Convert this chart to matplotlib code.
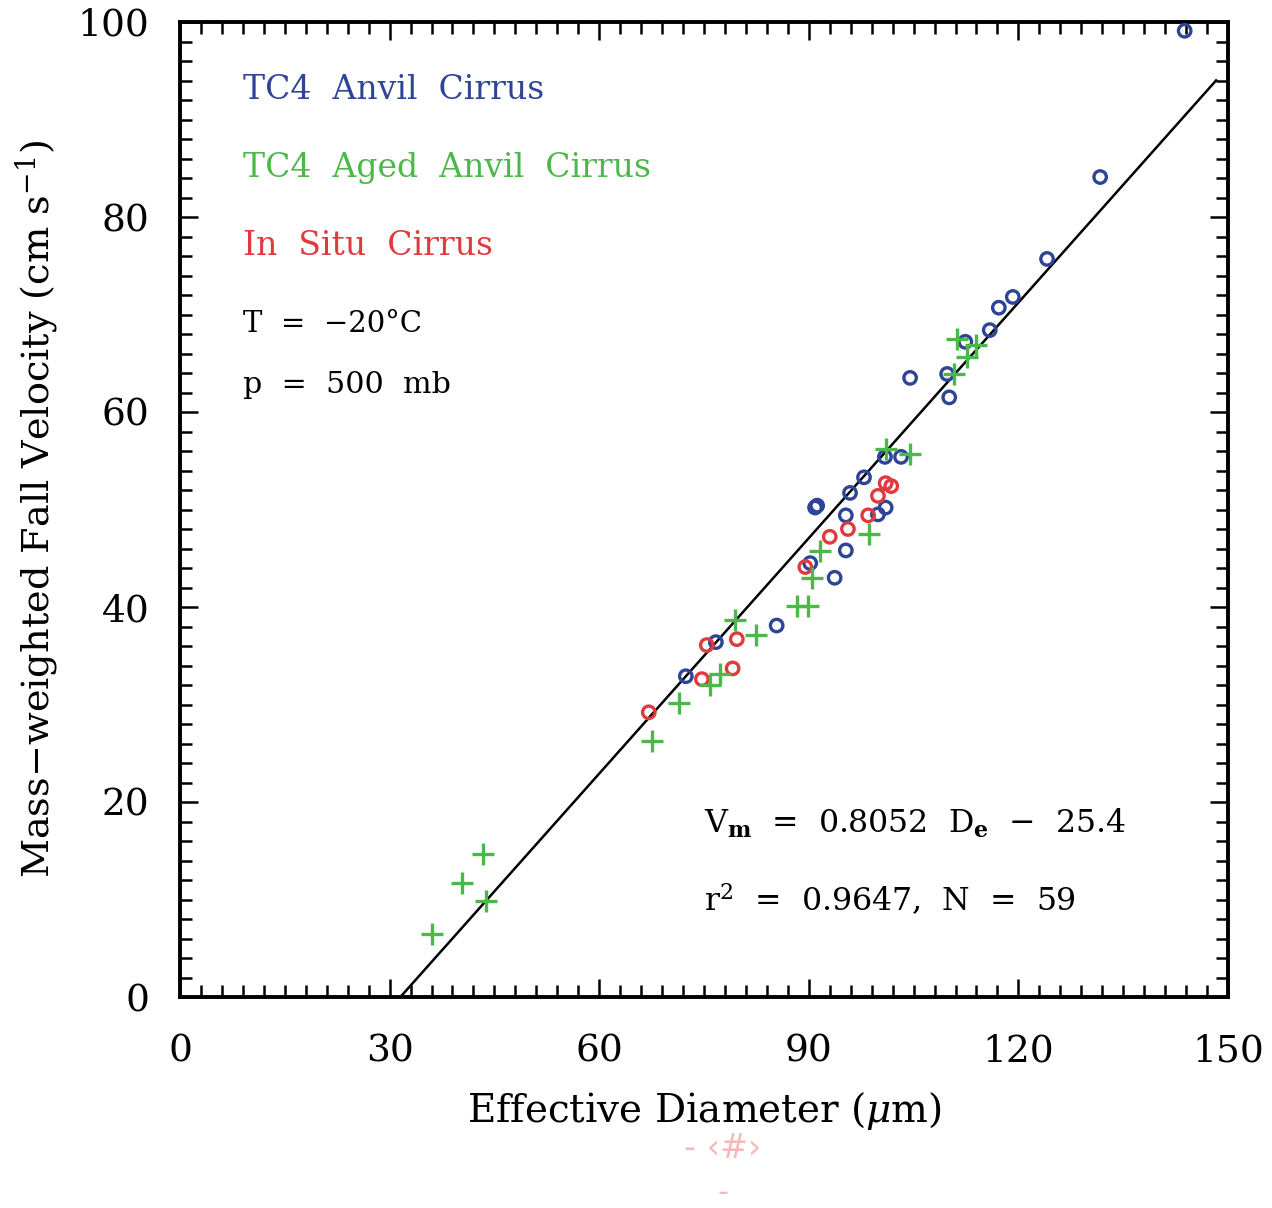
import matplotlib
matplotlib.use("Agg")
from matplotlib import pyplot as plt
from matplotlib.ticker import MultipleLocator
import numpy as np

plt.rcParams["font.family"] = ["DejaVu Serif"]
plt.rcParams["mathtext.fontset"] = "dejavuserif"

# TC4 anvil cirrus (blue circles)
anvil_d = [143.8, 131.7, 124.1, 119.2, 117.2, 115.9, 112.4, 104.5, 109.8, 110.1,
           100.9, 103.2, 97.9, 95.9, 91.2, 90.9, 95.3, 99.9, 101.0, 95.3,
           90.2, 93.7, 85.4, 76.7, 72.4]
anvil_v = [99.1, 84.1, 75.7, 71.8, 70.7, 68.4, 67.2, 63.5, 63.9, 61.5,
           55.4, 55.4, 53.3, 51.7, 50.4, 50.2, 49.4, 49.5, 50.2, 45.8,
           44.5, 43.0, 38.1, 36.4, 32.9]

# TC4 aged anvil cirrus (green pluses)
aged_d = [111.2, 113.9, 112.6, 110.8, 101.0, 104.5, 98.6, 91.6, 90.5, 79.4,
          82.4, 88.3, 89.9, 77.3, 75.9, 71.4, 67.6, 43.4, 40.4, 43.8, 36.1]
aged_v = [67.5, 66.9, 65.6, 63.9, 56.2, 55.7, 47.5, 45.7, 43.0, 38.7,
          37.1, 40.1, 40.1, 33.1, 32.0, 30.2, 26.3, 14.7, 11.7, 9.8, 6.5]

# in situ cirrus (red circles)
insitu_d = [101.0, 101.8, 99.9, 98.5, 95.6, 93.0, 89.5, 75.4, 79.7, 74.7, 79.1, 67.1]
insitu_v = [52.7, 52.4, 51.4, 49.4, 48.0, 47.2, 44.1, 36.1, 36.7, 32.6, 33.7, 29.2]

# fit  Vm = slope * De + intercept
slope = 0.8052
intercept = -25.4
d_end = 148.3

blue = "#2e4496"
green = "#4cb84a"
red = "#e0393e"

fig = plt.figure(figsize=(12.72, 12.08), dpi=100)
ax = fig.add_axes([180 / 1272, 1 - 997 / 1208, 1048 / 1272, 975 / 1208])

d_line = np.array([-intercept / slope, d_end])
ax.plot(d_line, slope * d_line + intercept, color="black", lw=1.8, zorder=2)

ax.scatter(anvil_d, anvil_v, s=80, facecolors="none", edgecolors=blue, linewidths=2.4, zorder=3)
ax.scatter(insitu_d, insitu_v, s=80, facecolors="none", edgecolors=red, linewidths=2.4, zorder=3)
ax.scatter(aged_d, aged_v, s=240, marker="+", color=green, linewidths=2.4, zorder=3)

ax.set_xlim(0, 150)
ax.set_ylim(0, 100)
ax.xaxis.set_major_locator(MultipleLocator(30))
ax.xaxis.set_minor_locator(MultipleLocator(3))
ax.yaxis.set_major_locator(MultipleLocator(20))
ax.yaxis.set_minor_locator(MultipleLocator(2))
ax.tick_params(which="both", direction="in", top=True, right=True, width=1.8, colors="black")
ax.tick_params(which="major", length=13, labelsize=27)
ax.tick_params(axis="x", which="major", pad=26)
ax.tick_params(axis="y", which="major", pad=22)
ax.tick_params(which="minor", length=8.5)
for sp in ax.spines.values():
    sp.set_linewidth(2.8)

ax.set_xlabel(r"Effective Diameter ($\mu$m)", fontsize=28, labelpad=15)
ax.set_ylabel(r"Mass$-$weighted Fall Velocity (cm s$^{-1}$)", fontsize=27.5, labelpad=12)

ax.text(9, 93, "TC4  Anvil  Cirrus", color=blue, fontsize=23.8, va="center")
ax.text(9, 85, "TC4  Aged  Anvil  Cirrus", color=green, fontsize=23.8, va="center")
ax.text(9, 77, "In  Situ  Cirrus", color=red, fontsize=23.8, va="center")
ax.text(9, 69, "T  =  \u221220\u00b0C", color="black", fontsize=21, va="center")
ax.text(9, 62.8, "p  =  500  mb", color="black", fontsize=21.7, va="center")

ax.text(75, 17.8, r"V$_{\mathbf{m}}$  =  0.8052  D$_{\mathbf{e}}$  $-$  25.4",
        color="black", fontsize=22.8, va="center")
ax.text(75, 9.9, r"r$^{2}$  =  0.9647,  N  =  59", color="black", fontsize=22.8, va="center")

fig.text(723 / 1272, 1 - 1148 / 1208, "- \u2039#\u203a", color="#f6b8b8", fontsize=24,
         ha="center", va="center", family=["DejaVu Sans"])
fig.text(723 / 1272, 1 - 1192 / 1208, "-", color="#f6b8b8", fontsize=22,
         ha="center", va="center", family=["DejaVu Sans"])

fig.savefig("out.png", dpi=100)
